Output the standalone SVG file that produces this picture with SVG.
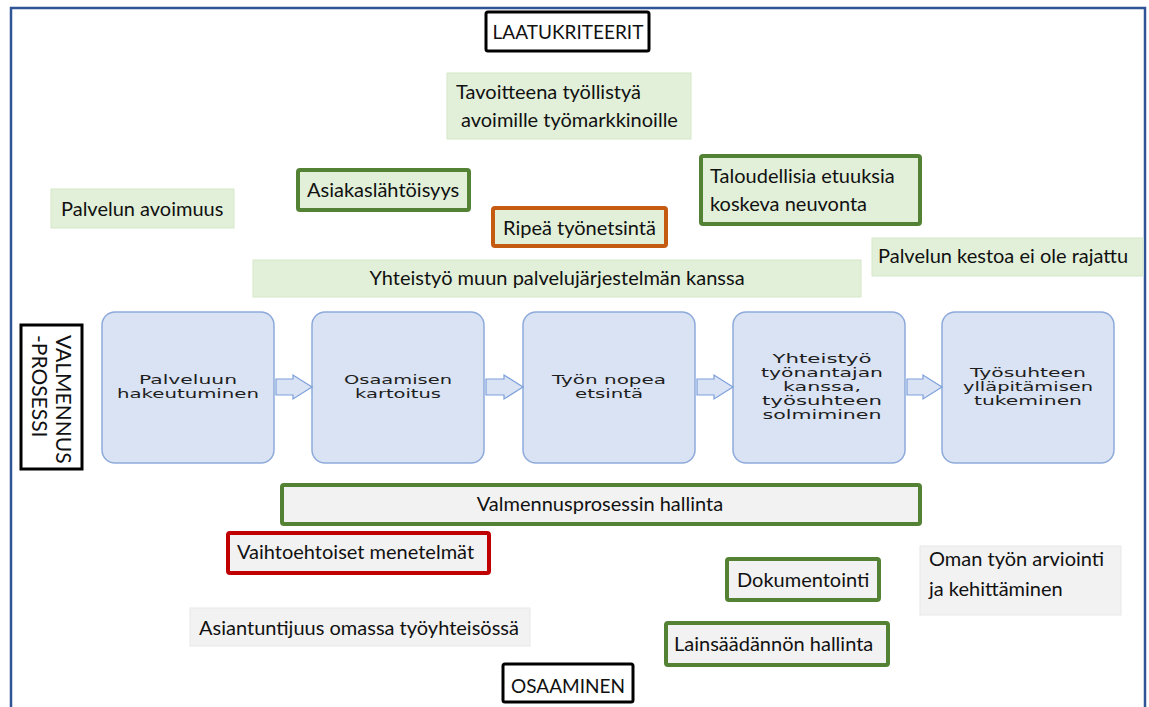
<svg xmlns="http://www.w3.org/2000/svg" width="1149" height="707" viewBox="0 0 1149 707">
  <style>
    .t { font-family: Lato, "Liberation Sans", sans-serif; font-size: 20px; fill: #111111; }
    .cap { font-size: 19px; }
    .tc { text-anchor: middle; }
    .pt { font-family: "DejaVu Sans", Verdana, sans-serif; font-size: 12px; fill: #1e1e1e; text-anchor: middle; }
    .lg { fill: #e2f0d9; stroke: #d5e8c8; stroke-width: 1; }
    .gr { fill: #f2f2f2; stroke: #e8e8e8; stroke-width: 1; }
    .gb { stroke: #548235; stroke-width: 4; }
    .ob { stroke: #c55a11; stroke-width: 4; }
    .rb { stroke: #c00000; stroke-width: 4; }
    .kb { fill: #ffffff; stroke: #000000; stroke-width: 3; }
    .pb { fill: #dae3f3; stroke: #8eaadb; stroke-width: 1.5; }
    .ar { fill: #dae3f3; stroke: #7c9fdc; stroke-width: 1.2; }
  </style>

  <path id="frame" d="M11,712 V8 H1145 V712" fill="none" stroke="#2f5597" stroke-width="2.5"/>

  <g id="laatukriteerit">
    <rect class="kb" x="486" y="12" width="163" height="39" rx="2"/>
    <text class="t cap tc" x="568" y="39">LAATUKRITEERIT</text>
  </g>

  <g id="tavoitteena">
    <rect class="lg" x="447" y="73" width="244" height="66"/>
    <text class="t" x="456" y="99">Tavoitteena työllistyä</text>
    <text class="t" x="461" y="127">avoimille työmarkkinoille</text>
  </g>

  <g id="palvelun-avoimuus">
    <rect class="lg" x="51" y="189" width="183" height="39"/>
    <text class="t" x="61" y="216">Palvelun avoimuus</text>
  </g>

  <g id="asiakaslahtoisyys">
    <rect class="lg gb" x="298" y="170" width="171" height="40" rx="2"/>
    <text class="t" x="307" y="197">Asiakaslähtöisyys</text>
  </g>

  <g id="ripea">
    <rect class="lg ob" x="493" y="208" width="173" height="38" rx="2"/>
    <text class="t" x="503" y="235">Ripeä työnetsintä</text>
  </g>

  <g id="taloudellisia">
    <rect class="lg gb" x="701" y="156" width="219" height="68" rx="2"/>
    <text class="t" x="710" y="183">Taloudellisia etuuksia</text>
    <text class="t" x="710" y="211">koskeva neuvonta</text>
  </g>

  <g id="palvelun-kestoa">
    <rect class="lg" x="872" y="238" width="271" height="38"/>
    <text class="t" x="878" y="263">Palvelun kestoa ei ole rajattu</text>
  </g>

  <g id="yhteistyo-muun">
    <rect class="lg" x="253" y="260" width="608" height="37"/>
    <text class="t tc" x="557" y="285">Yhteistyö muun palvelujärjestelmän kanssa</text>
  </g>

  <g id="valmennusprosessi">
    <rect class="kb" x="21" y="325" width="61" height="144"/>
    <text class="t" style="font-size:21px" transform="translate(56,335) rotate(90)">VALMENNUS</text>
    <text class="t" style="font-size:21px" transform="translate(32,335) rotate(90)">-PROSESSI</text>
  </g>

  <g id="p1">
    <rect class="pb" x="102" y="312" width="172" height="151" rx="13"/>
    <text class="pt" x="188" y="384" textLength="98" lengthAdjust="spacingAndGlyphs">Palveluun</text>
    <text class="pt" x="188" y="398" textLength="142" lengthAdjust="spacingAndGlyphs">hakeutuminen</text>
  </g>
  <g id="p2">
    <rect class="pb" x="312" y="312" width="172" height="151" rx="13"/>
    <text class="pt" x="398" y="384" textLength="108" lengthAdjust="spacingAndGlyphs">Osaamisen</text>
    <text class="pt" x="398" y="398" textLength="86" lengthAdjust="spacingAndGlyphs">kartoitus</text>
  </g>
  <g id="p3">
    <rect class="pb" x="523" y="312" width="172" height="151" rx="13"/>
    <text class="pt" x="609" y="384" textLength="114" lengthAdjust="spacingAndGlyphs">Työn nopea</text>
    <text class="pt" x="609" y="398" textLength="68" lengthAdjust="spacingAndGlyphs">etsintä</text>
  </g>
  <g id="p4">
    <rect class="pb" x="733" y="312" width="172" height="151" rx="13"/>
    <text class="pt" x="822" y="363" textLength="99" lengthAdjust="spacingAndGlyphs">Yhteistyö</text>
    <text class="pt" x="822" y="377" textLength="122" lengthAdjust="spacingAndGlyphs">työnantajan</text>
    <text class="pt" x="822" y="391" textLength="78" lengthAdjust="spacingAndGlyphs">kanssa,</text>
    <text class="pt" x="822" y="405" textLength="120" lengthAdjust="spacingAndGlyphs">työsuhteen</text>
    <text class="pt" x="822" y="419" textLength="119" lengthAdjust="spacingAndGlyphs">solmiminen</text>
  </g>
  <g id="p5">
    <rect class="pb" x="942" y="312" width="172" height="151" rx="13"/>
    <text class="pt" x="1028" y="377" textLength="116" lengthAdjust="spacingAndGlyphs">Työsuhteen</text>
    <text class="pt" x="1028" y="391" textLength="130" lengthAdjust="spacingAndGlyphs">ylläpitämisen</text>
    <text class="pt" x="1028" y="405" textLength="108" lengthAdjust="spacingAndGlyphs">tukeminen</text>
  </g>

  <g id="connectors">
    <path class="ar" d="M276,379 H293 V375 L312,387 L293,399 V395 H276 Z"/>
    <path class="ar" d="M486,379 H504 V375 L523,387 L504,399 V395 H486 Z"/>
    <path class="ar" d="M697,379 H714 V375 L733,387 L714,399 V395 H697 Z"/>
    <path class="ar" d="M907,379 H923 V375 L942,387 L923,399 V395 H907 Z"/>
  </g>

  <g id="valmennusprosessin-hallinta">
    <rect class="gr gb" x="282" y="485" width="638" height="39" rx="2"/>
    <text class="t tc" x="600" y="511">Valmennusprosessin hallinta</text>
  </g>

  <g id="vaihtoehtoiset">
    <rect class="gr rb" x="228" y="533" width="261" height="40" rx="2"/>
    <text class="t" x="237" y="559">Vaihtoehtoiset menetelmät</text>
  </g>

  <g id="asiantuntijuus">
    <rect class="gr" x="190" y="608" width="340" height="38"/>
    <text class="t" x="199" y="635">Asiantuntijuus omassa työyhteisössä</text>
  </g>

  <g id="osaaminen">
    <rect class="kb" x="503" y="664" width="130" height="38" rx="2"/>
    <text class="t cap tc" x="568" y="693">OSAAMINEN</text>
  </g>

  <g id="dokumentointi">
    <rect class="gr gb" x="727" y="559" width="152" height="41" rx="2"/>
    <text class="t" x="737" y="587">Dokumentointi</text>
  </g>

  <g id="lainsaadanto">
    <rect class="gr gb" x="666" y="623" width="222" height="42" rx="2"/>
    <text class="t" x="674" y="651">Lainsäädännön hallinta</text>
  </g>

  <g id="oman-tyon">
    <rect class="gr" x="920" y="546" width="201" height="69"/>
    <text class="t" x="929" y="566">Oman työn arviointi</text>
    <text class="t" x="929" y="596">ja kehittäminen</text>
  </g>
</svg>
